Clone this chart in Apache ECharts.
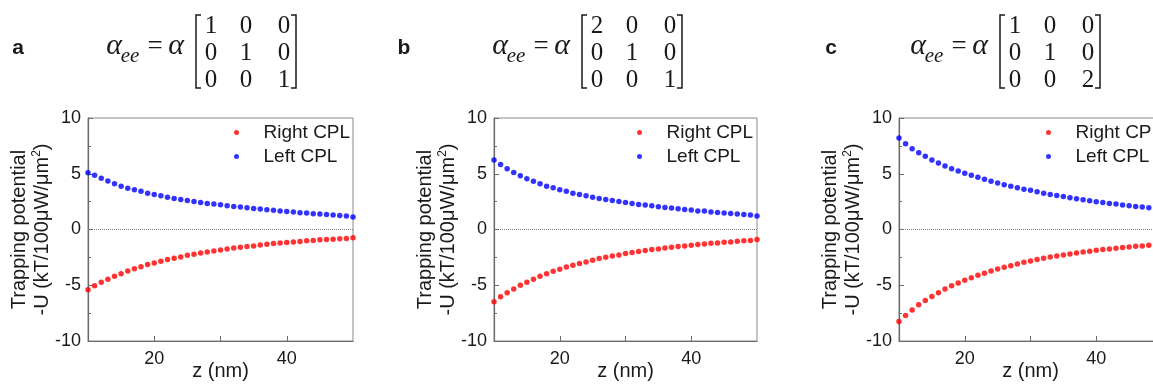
<!DOCTYPE html>
<html>
<head>
<meta charset="utf-8">
<script src="https://cdn.jsdelivr.net/npm/echarts@6/dist/echarts.min.js"></script>
<style>
  html, body { margin: 0; padding: 0; background: #fff; }
  #chart { width: 1153px; height: 385px; }
</style>
</head>
<body>
<div id="chart"></div>
<script>
// z positions (nm)
const zNm = [10,11,12,13,14,15,16,17,18,19,20,21,22,23,24,25,26,27,28,29,30,
  31,32,33,34,35,36,37,38,39,40,41,42,43,44,45,46,47,48,49,50];

// -U values, kT/100uW/um^2
const rightA = [-5.40,-5.04,-4.74,-4.47,-4.20,-3.96,-3.72,-3.51,-3.33,-3.15,-3.00,-2.85,-2.70,-2.58,-2.46,-2.31,-2.22,-2.10,-2.01,-1.92,-1.83,
  -1.74,-1.65,-1.59,-1.53,-1.47,-1.38,-1.32,-1.26,-1.20,-1.17,-1.11,-1.08,-1.02,-0.99,-0.93,-0.90,-0.87,-0.84,-0.81,-0.75];
const leftA = [5.09,4.86,4.59,4.34,4.10,3.89,3.71,3.56,3.42,3.26,3.15,3.02,2.90,2.79,2.70,2.61,2.52,2.43,2.34,2.28,2.21,
  2.12,2.07,2.01,1.94,1.89,1.83,1.77,1.73,1.67,1.62,1.56,1.50,1.47,1.41,1.38,1.35,1.29,1.26,1.20,1.13];
const rightB = [-6.47,-6.03,-5.67,-5.34,-5.01,-4.74,-4.47,-4.20,-3.96,-3.75,-3.57,-3.36,-3.21,-3.06,-2.91,-2.76,-2.61,-2.49,-2.37,-2.28,-2.16,
  -2.07,-1.98,-1.89,-1.80,-1.74,-1.65,-1.59,-1.53,-1.47,-1.41,-1.35,-1.29,-1.23,-1.20,-1.14,-1.11,-1.05,-1.02,-0.99,-0.90];
const leftB = [6.23,5.84,5.45,5.12,4.82,4.55,4.32,4.10,3.89,3.74,3.56,3.42,3.26,3.15,3.02,2.90,2.79,2.70,2.61,2.52,2.43,
  2.34,2.25,2.19,2.12,2.03,1.98,1.92,1.85,1.80,1.74,1.67,1.65,1.58,1.53,1.49,1.44,1.40,1.35,1.29,1.22];
// panel c is cut by the image edge, only z = 10..48 visible
const rightC = [-8.25,-7.71,-7.23,-6.75,-6.36,-6.00,-5.67,-5.34,-5.04,-4.80,-4.56,-4.32,-4.11,-3.93,-3.72,-3.54,-3.39,-3.24,-3.09,-2.94,-2.82,
  -2.70,-2.58,-2.46,-2.37,-2.28,-2.19,-2.10,-2.01,-1.95,-1.86,-1.80,-1.74,-1.68,-1.62,-1.56,-1.50,-1.47,-1.41];
const leftC = [8.21,7.70,7.25,6.89,6.56,6.23,5.96,5.69,5.45,5.24,5.04,4.86,4.68,4.50,4.32,4.16,4.01,3.89,3.74,3.62,3.51,
  3.38,3.26,3.15,3.06,2.97,2.84,2.75,2.66,2.57,2.48,2.43,2.34,2.28,2.19,2.12,2.07,2.01,1.94];

const yTicks = [-10, -5, 0, 5, 10];
const xLabels = [20, 40];
const panelLetters = ['a', 'b', 'c'];
const diagonals = [[1, 1, 1], [2, 1, 1], [1, 1, 2]];

const FONT = 'Liberation Sans, Arial, sans-serif';
const SERIF = 'Liberation Serif, DejaVu Serif, serif';
const INK = '#1a1a1a';

const panels = [
  { left: 88, width: 265, legendLeft: 234, letterX: 18, eqX: 0 },
  { left: 494, width: 263, legendLeft: 637, letterX: 404, eqX: 386 },
  { left: 899, width: 263, legendLeft: 1046, letterX: 831, eqX: 804 }
];
const seriesData = [[rightA, leftA], [rightB, leftB], [rightC, leftC]];

const pairs = (vals) => vals.map((v, i) => [zNm[i], v]);

const grid = [], xAxis = [], yAxis = [], series = [], legend = [], graphic = [];

panels.forEach((p, k) => {
  grid.push({
    left: p.left, width: p.width, top: 118, height: 223,
    show: true, borderColor: '#8a8a8a', borderWidth: 1,
    containLabel: false, outerBoundsMode: 'none'
  });
  xAxis.push({
    gridIndex: k, type: 'value', min: 10, max: 50, interval: 10,
    name: 'z (nm)', nameLocation: 'middle', nameGap: 20, nameMoveOverlap: false,
    nameTextStyle: { fontFamily: FONT, fontSize: 20, color: INK, verticalAlign: 'top' },
    axisLine: { onZero: false, lineStyle: { color: '#6a6a6a', width: 1.2 } },
    axisTick: { inside: true, length: 5, customValues: [20, 30, 40], lineStyle: { color: '#6a6a6a' } },
    axisLabel: { customValues: xLabels, margin: 9, fontFamily: FONT, fontSize: 18, color: INK },
    splitLine: { show: false }
  });
  yAxis.push({
    gridIndex: k, type: 'value', min: -10, max: 10, interval: 5,
    name: 'Trapping potential\n-U (kT/100μW/μm{sup|2})',
    nameLocation: 'middle', nameRotate: 90, nameGap: 34, nameMoveOverlap: false,
    nameTextStyle: {
      fontFamily: FONT, fontSize: 20, color: INK, lineHeight: 23,
      rich: { sup: { fontFamily: FONT, fontSize: 12, color: INK, verticalAlign: 'top', lineHeight: 14 } }
    },
    axisLine: { onZero: false, lineStyle: { color: '#6a6a6a', width: 1.2 } },
    axisTick: { inside: true, length: 5, lineStyle: { color: '#6a6a6a' } },
    minorTick: { show: true, splitNumber: 2, length: 3, lineStyle: { color: '#6a6a6a' } },
    axisLabel: { margin: 7, fontFamily: FONT, fontSize: 18, color: INK,
      formatter: (v) => yTicks.includes(v) ? String(v) : '' },
    splitLine: { show: false }
  });
  const [r, l] = seriesData[k];
  series.push({
    name: 'Right CPL', type: 'scatter', xAxisIndex: k, yAxisIndex: k,
    data: pairs(r), symbolSize: 5.5, itemStyle: { color: '#ff0000' },
    markLine: {
      silent: true, symbol: 'none', label: { show: false },
      lineStyle: { type: 'dotted', color: '#7a7a7a', width: 1 },
      data: [{ yAxis: 0 }]
    }
  });
  series.push({
    name: 'Left CPL', type: 'scatter', xAxisIndex: k, yAxisIndex: k,
    data: pairs(l), symbolSize: 5.5, itemStyle: { color: '#0000ff' }
  });
  legend.push({
    left: p.legendLeft, top: 123, orient: 'vertical', padding: 0,
    itemWidth: 44, itemHeight: 5, itemGap: 5, icon: 'circle',
    data: ['Right CPL', 'Left CPL'],
    textStyle: { fontFamily: FONT, fontSize: 19, color: INK }
  });

  // panel letter
  graphic.push({
    type: 'text', x: p.letterX, y: 48,
    style: { text: panelLetters[k], font: 'bold 21px ' + FONT, fill: INK,
      align: 'center', verticalAlign: 'middle', textAlign: 'center', textVerticalAlign: 'middle' }
  });

  // alpha_ee = alpha [matrix]
  const ox = p.eqX;
  const t = (x, y, text, font) => ({
    type: 'text', x: ox + x, y: y,
    style: { text: text, font: font, fill: INK,
      align: 'center', verticalAlign: 'middle', textAlign: 'center', textVerticalAlign: 'middle' }
  });
  graphic.push(t(114, 46, 'α', 'italic 30px ' + SERIF));
  graphic.push(t(130, 56, 'ee', 'italic 21px ' + SERIF));
  graphic.push(t(155, 47, '=', '27px ' + SERIF));
  graphic.push(t(176, 46, 'α', 'italic 30px ' + SERIF));
  graphic.push({ type: 'polyline', shape: { points: [[ox + 201, 15], [ox + 196, 15], [ox + 196, 88], [ox + 201, 88]] },
    style: { stroke: INK, lineWidth: 1.5, fill: null } });
  graphic.push({ type: 'polyline', shape: { points: [[ox + 291, 15], [ox + 296, 15], [ox + 296, 88], [ox + 291, 88]] },
    style: { stroke: INK, lineWidth: 1.5, fill: null } });
  const colX = [211, 246, 284], rowY = [26, 53, 80];
  rowY.forEach((ry, i) => colX.forEach((cx, j) => {
    graphic.push(t(cx, ry, String(i === j ? diagonals[k][i] : 0), '25px ' + SERIF));
  }));
});

const chart = echarts.init(document.getElementById('chart'), null, { renderer: 'canvas' });
chart.setOption({
  animation: false,
  backgroundColor: '#ffffff',
  grid, xAxis, yAxis, series, legend, graphic
});
window.addEventListener('resize', () => chart.resize());
</script>
</body>
</html>
